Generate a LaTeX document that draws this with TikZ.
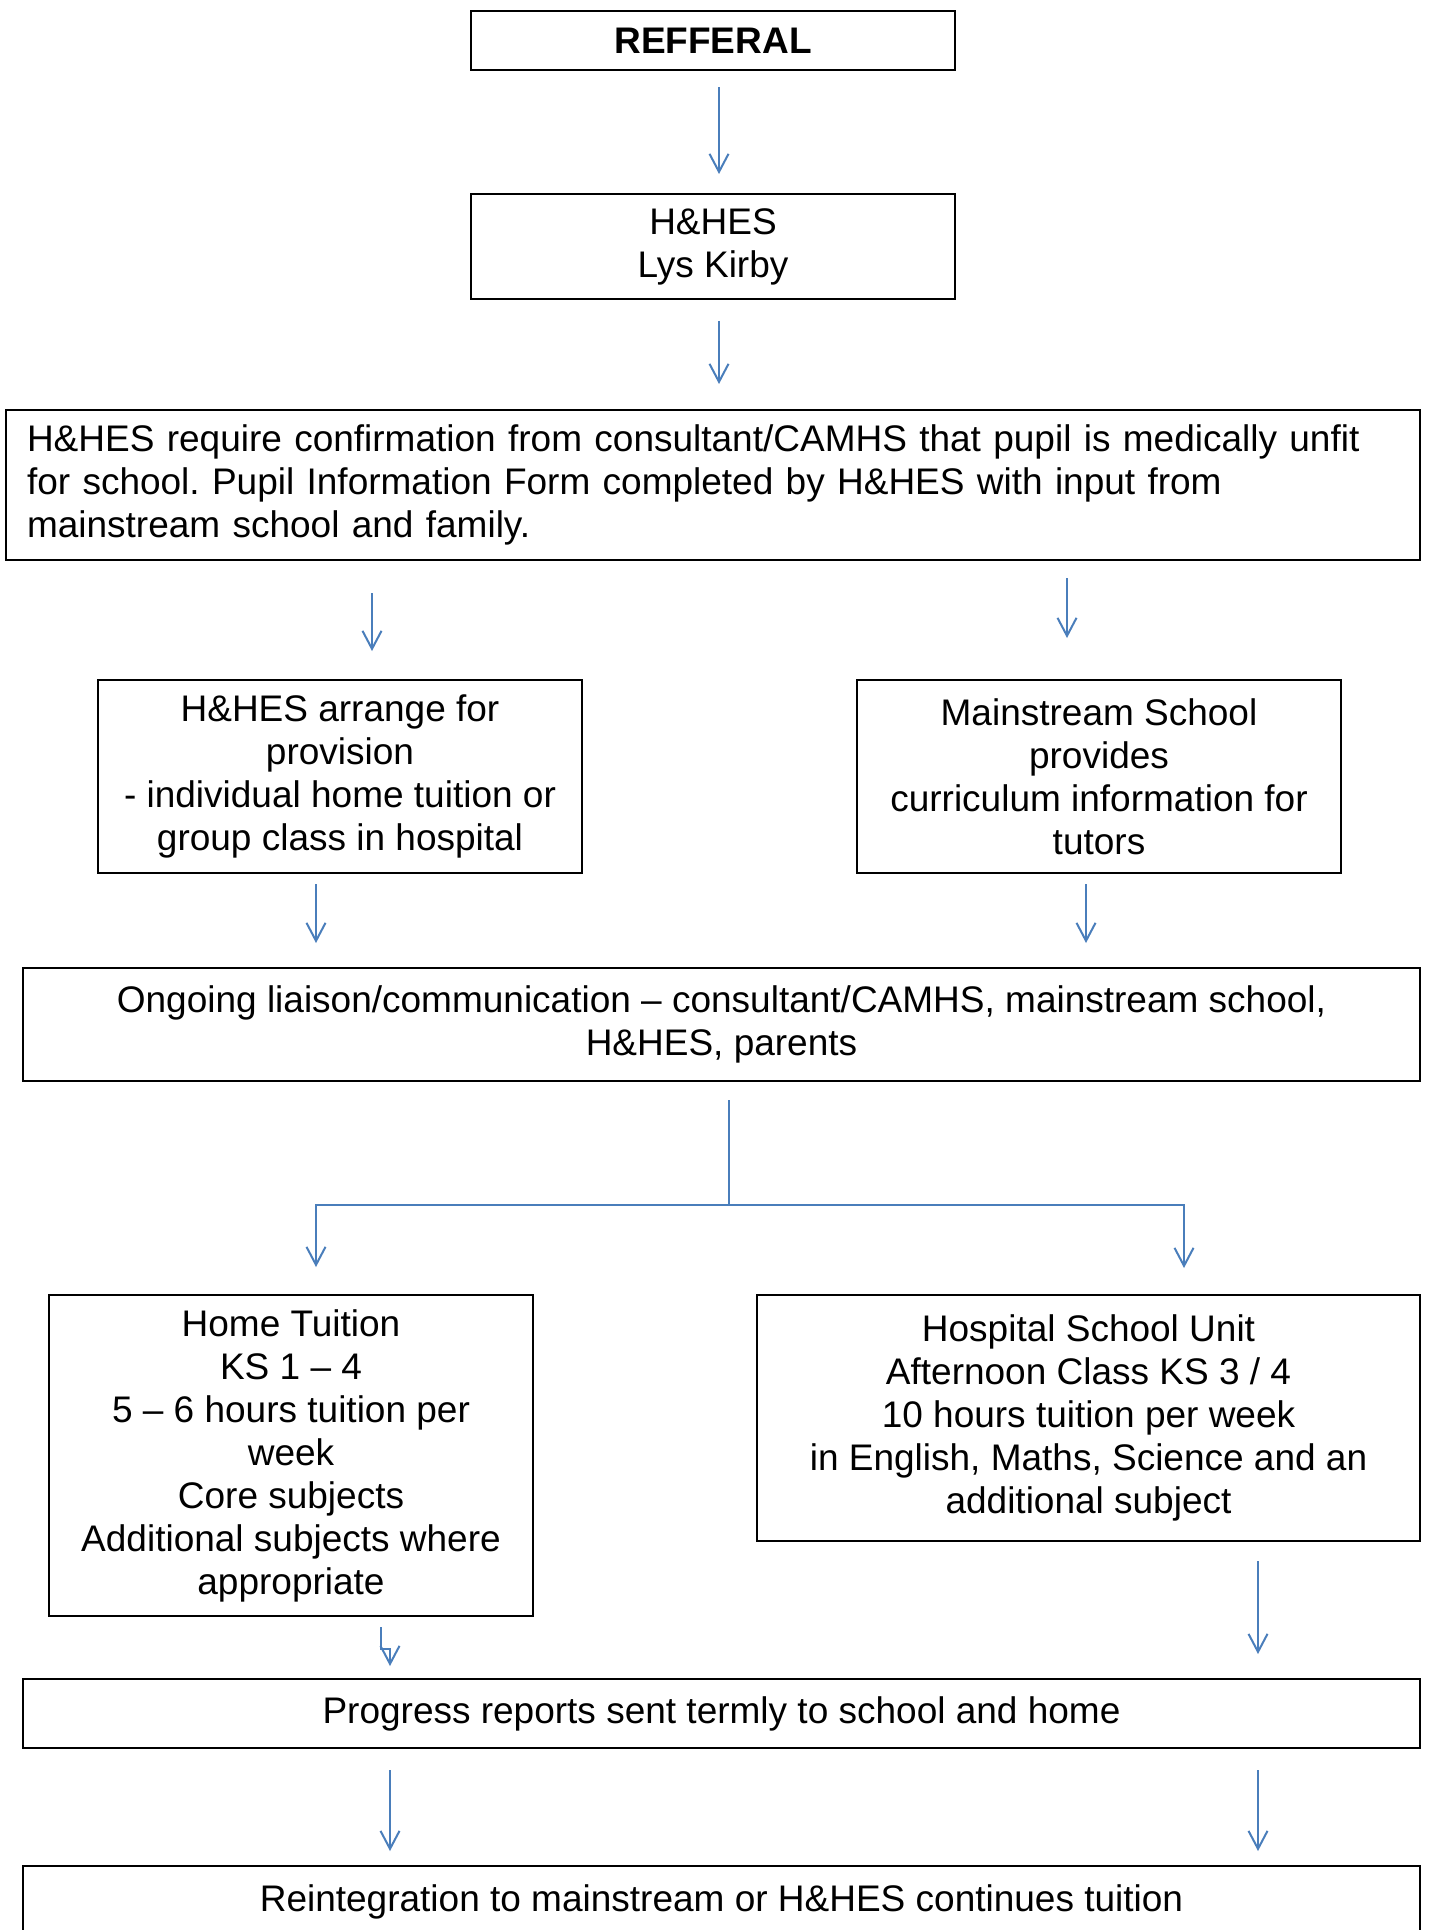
\documentclass[tikz,border=0pt]{standalone}
\usepackage{fontspec}
\setmainfont{Liberation Sans}
\usetikzlibrary{arrows.meta}
\definecolor{flowblue}{HTML}{4A7EBB}
\tikzset{
  box/.style={draw=black,line width=1pt,inner sep=0pt,align=center,
    font=\fontsize{18.5}{21.5}\selectfont},
  link/.style={draw=flowblue,line width=1pt},
  arr/.style={link,-{Straight Barb[length=9pt,width=9.5pt]}}
}
\frenchspacing

\begin{document}
\begin{tikzpicture}[x=0.5pt,y=-0.5pt]
  \clip (0,0) rectangle (1428,1930);
  \fill[white] (0,0) rectangle (1428,1930);

  % boxes, top to bottom
  \node[box,minimum width=242pt,minimum height=29.5pt] (ref) at (713,41) {\bfseries REFFERAL};
  \node[box,minimum width=242pt,minimum height=52.5pt] (hhes) at (713,246.5) {H\&HES\\Lys Kirby};
  \node[box,minimum width=707pt,minimum height=75pt,text width=686pt,align=left] (confirm) at (713,485)
    {H\&HES require confirmation from consultant/CAMHS that pupil is medically unfit\\
     for school. Pupil Information Form completed by H\&HES with input from\\
     mainstream school and family.};
  \node[box,minimum width=242pt,minimum height=96.5pt] (provision) at (340,776.5)
    {H\&HES arrange for\\provision\\- individual home tuition or\\group class in hospital};
  \node[box,minimum width=242pt,minimum height=96.5pt] (school) at (1099,776.5)
    {Mainstream School\\provides\\curriculum information for\\tutors};
  \node[box,minimum width=698.5pt,minimum height=56.5pt] (liaison) at (721.5,1024.5)
    {Ongoing liaison/communication -- consultant/CAMHS, mainstream school,\\H\&HES, parents};
  \node[box,minimum width=242pt,minimum height=160.5pt] (home) at (291,1455.5)
    {Home Tuition\\KS 1 -- 4\\5 -- 6 hours tuition per\\week\\Core subjects\\Additional subjects where\\appropriate};
  \node[box,minimum width=331.5pt,minimum height=123pt] (hospital) at (1088.5,1418)
    {Hospital School Unit\\Afternoon Class KS 3 / 4\\10 hours tuition per week\\in English, Maths, Science and an\\additional subject};
  \node[box,minimum width=698.5pt,minimum height=34.5pt] (progress) at (721.5,1713.5)
    {Progress reports sent termly to school and home};
  \node[box,minimum width=698.5pt,minimum height=36pt] (reint) at (721.5,1902)
    {Reintegration to mainstream or H\&HES continues tuition};

  % connectors
  \draw[arr] ([shift={(6,16)}]ref.south) -- ([shift={(6,-19)}]hhes.north);
  \draw[arr] ([shift={(6,21)}]hhes.south) -- ([shift={(6,-25)}]confirm.north);
  \draw[arr] ([shift={(-341,32)}]confirm.south) -- ([shift={(32,-28)}]provision.north);
  \draw[arr] ([shift={(354,17)}]confirm.south) -- ([shift={(-32,-41)}]school.north);
  \draw[arr] ([shift={(-24,10)}]provision.south) -- ([shift={(-405.5,-24)}]liaison.north);
  \draw[arr] ([shift={(-13,10)}]school.south) -- ([shift={(364.5,-24)}]liaison.north);

  \coordinate (fork) at ([shift={(7.5,123)}]liaison.south);
  \draw[link] ([shift={(7.5,18)}]liaison.south) -- (fork);
  \draw[arr] (fork) -| ([shift={(25,-27)}]home.north);
  \draw[arr] (fork) -| ([shift={(95.5,-26)}]hospital.north);

  \draw[arr] ([shift={(90,10)}]home.south) -- ++(0,22) -- ++(9,0) -- ++(0,17);
  \draw[arr] ([shift={(169.5,19)}]hospital.south) -- ([shift={(536.5,-24)}]progress.north);
  \draw[arr] ([shift={(-331.5,21)}]progress.south) -- ([shift={(-331.5,-14)}]reint.north);
  \draw[arr] ([shift={(536.5,21)}]progress.south) -- ([shift={(536.5,-14)}]reint.north);
\end{tikzpicture}
\end{document}
